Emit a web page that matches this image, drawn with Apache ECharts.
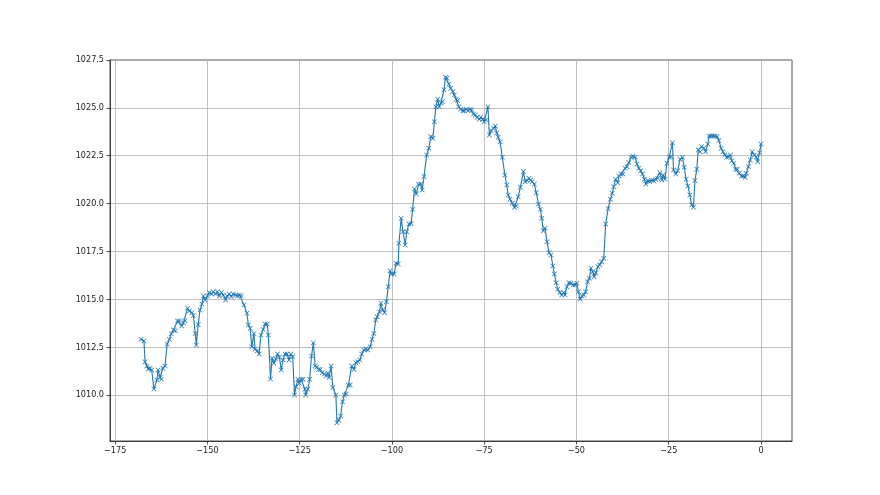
<!DOCTYPE html>
<html>
<head>
<meta charset="utf-8">
<script src="https://cdn.jsdelivr.net/npm/echarts@6/dist/echarts.min.js"></script>
<style>html,body{margin:0;padding:0;background:#fff}#c{width:880px;height:495px}</style>
</head>
<body>
<div id="c"></div>
<script>
// hours relative to now
var hours = [
-168,-167.2,-166.9,-166.4,-166.0,-165.5,-165.1,-164.5,-163.7,-163.4,-162.8,-162.5,-162.1,-161.5,-160.9,-160.3,-159.8,-159.2,-158.7,-158.1,
-157.6,-157.0,-156.5,-156.1,-155.4,-154.9,-154.2,-153.8,-153.3,-153.0,-152.5,-152.0,-151.5,-151.1,-150.6,-150.0,-149.5,-148.9,-148.4,-147.8,
-147.3,-146.8,-146.2,-145.7,-145.1,-144.6,-144.1,-143.5,-143.0,-142.4,-141.9,-141.3,-140.8,-140.1,
-139.3,-138.9,-138.4,-138.0,-137.4,-137.1,-136.5,-136.0,-135.5,-134.9,-134.4,-133.8,-133.5,-132.9,-132.5,-132.0,-131.5,-131.0,-130.5,-130.0,
-129.5,-129.0,-128.4,-127.9,-127.4,-126.9,-126.4,-126.0,-125.5,-125.1,-124.6,-124.1,-123.6,-123.4,-122.8,-122.3,-121.8,-121.3,-120.8,-120.4,
-119.9,-119.4,-118.9,-118.3,-117.8,-117.4,-117.0,-116.5,-116.0,-115.2,-114.9,-114.4,-113.9,-113.4,-112.9,-112.4,-111.8,-111.3,-110.9,-110.3,
-109.8,-109.3,-108.7,-108.2,-107.6,-107.1,
-106.5,-105.9,-105.4,-104.9,-104.4,-104.0,-103.4,-103.0,-102.5,-102.0,-101.5,-101.0,-100.5,-100.1,-99.4,-98.9,-98.3,-98.1,-97.5,-97.0,
-96.4,-96.0,-95.4,-94.8,-94.4,-93.9,-93.4,-92.8,-92.2,-91.8,-91.3,-90.6,-90.0,-89.5,-88.9,-88.5,-88.1,-87.6,-87.2,-86.7,
-86.3,-85.9,-85.5,-85.1,-84.6,-84.1,-83.5,-83.1,-82.6,-82.2,-81.9,-81.4,-80.8,-80.4,-79.9,-79.4,-78.8,-78.4,-77.9,-77.4,
-76.9,-76.3,-75.9,-75.4,-75.0,-74.5,-74.0,-73.6,-73.1,-72.5,-72.0,-71.6,-71.2,-70.7,-70.1,-69.4,-68.9,-68.5,-68.0,-67.4,
-66.8,-66.3,-65.8,-65.2,-64.4,-63.9,-63.4,-62.9,-62.4,-62.0,-61.4,-60.9,-60.3,-59.8,-59.4,-59.0,-58.5,-58.0,-57.4,-56.9,
-56.4,-56.0,-55.5,-55.1,-54.5,-54.0,-53.5,-53.1,-52.6,-52.0,-51.5,-50.9,-50.4,-49.9,-49.5,-49.0,-48.5,-48.0,-47.5,-47.0,
-46.5,-46.1,-45.6,-45.2,-44.7,-44.2,-43.7,-43.2,-42.6,-42.1,-41.4,-40.8,-40.3,-39.9,-39.4,-38.8,-38.5,-37.9,-37.4,-36.8,
-36.3,-35.8,-35.2,-34.7,-34.1,-33.6,-33.1,-32.6,-32.1,-31.6,-31.2,-30.7,-30.2,-29.6,-29.1,-28.5,-28.0,-27.4,-26.9,-26.5,
-26.0,-25.5,-24.9,-24.4,-24.0,-23.7,-23.1,-22.6,-21.9,-21.3,-20.8,-20.3,-19.8,-19.3,-18.8,-18.3,-17.9,-17.4,-17.0,-16.5,
-16.1,-15.5,-15.0,-14.4,-14.1,-13.5,-13.0,-12.5,-11.9,-11.4,-10.8,-10.3,-9.8,-9.3,-8.8,-8.3,-7.9,-7.4,-6.9,-6.4,
-5.9,-5.3,-4.8,-4.3,-4.0,-3.4,-2.9,-2.4,-1.8,-1.3,-0.9,-0.4,0
];
// pressure, hPa
var pressure = [
1012.91,1012.82,1011.74,1011.52,1011.36,1011.40,1011.31,1010.31,1010.78,1011.31,1010.92,1010.82,1011.40,1011.52,1012.66,1012.91,1013.20,1013.40,1013.36,1013.87,
1013.87,1013.61,1013.78,1013.88,1014.53,1014.39,1014.30,1014.16,1013.22,1012.61,1013.69,1014.44,1014.75,1015.17,1014.96,1015.17,1015.35,1015.28,1015.40,1015.28,
1015.40,1015.17,1015.35,1015.22,1014.96,1015.17,1015.28,1015.14,1015.28,1015.22,1015.17,1015.22,1015.17,1014.70,
1014.27,1013.66,1013.48,1012.52,1013.22,1012.39,1012.31,1012.14,1013.13,1013.43,1013.71,1013.71,1013.13,1010.84,1011.92,1011.66,1011.88,1012.14,1011.97,1011.31,
1011.83,1012.14,1012.14,1011.83,1012.14,1012.00,1010.00,1010.43,1010.82,1010.61,1010.82,1010.82,1010.30,1010.00,1010.30,1010.82,1012.04,1012.73,1011.52,1011.45,
1011.34,1011.34,1011.17,1011.10,1010.99,1011.15,1010.92,1011.52,1010.40,1010.00,1008.55,1008.69,1008.90,1009.65,1010.00,1010.05,1010.52,1010.52,1011.52,1011.34,
1011.69,1011.74,1011.83,1012.14,1012.35,1012.40,
1012.35,1012.52,1012.91,1013.22,1013.92,1014.09,1014.35,1014.79,1014.44,1014.30,1014.87,1015.66,1016.49,1016.32,1016.32,1016.88,1016.84,1017.93,1019.23,1018.53,
1017.84,1018.53,1018.93,1018.96,1019.70,1020.76,1020.50,1021.01,1021.02,1020.71,1021.41,1022.54,1022.89,1023.50,1023.41,1024.28,1025.06,1025.45,1025.06,1025.27,
1025.32,1025.94,1026.60,1026.55,1026.25,1026.02,1025.85,1025.67,1025.45,1025.38,1025.06,1024.93,1024.85,1024.85,1024.93,1024.85,1024.93,1024.89,1024.68,1024.63,
1024.51,1024.40,1024.51,1024.40,1024.28,1024.37,1025.06,1023.58,1023.81,1023.93,1024.05,1023.69,1023.46,1023.23,1022.42,1021.49,1020.97,1020.45,1020.23,1020.02,
1019.81,1019.87,1020.36,1020.85,1021.67,1021.14,1021.20,1021.32,1021.23,1021.14,1021.02,1020.57,1019.98,1019.70,1019.23,1018.58,1018.71,1018.01,1017.43,1017.31,
1016.74,1016.32,1015.87,1015.52,1015.35,1015.22,1015.35,1015.22,1015.66,1015.87,1015.84,1015.75,1015.75,1015.84,1015.40,1015.00,1015.17,1015.22,1015.40,1015.92,
1016.10,1016.62,1016.44,1016.18,1016.39,1016.70,1016.79,1016.96,1017.14,1018.93,1019.75,1020.23,1020.54,1020.88,1021.27,1021.09,1021.44,1021.55,1021.55,1021.84,
1021.93,1022.14,1022.42,1022.49,1022.42,1022.07,1021.84,1021.72,1021.55,1021.27,1021.02,1021.20,1021.14,1021.20,1021.20,1021.27,1021.32,1021.61,1021.23,1021.49,
1021.27,1022.11,1022.42,1022.45,1023.18,1021.76,1021.55,1021.72,1022.31,1022.42,1021.90,1021.27,1020.92,1020.45,1019.93,1019.81,1021.20,1021.79,1022.80,1022.71,
1022.97,1022.89,1022.71,1023.11,1023.53,1023.53,1023.53,1023.53,1023.50,1023.29,1022.89,1022.71,1022.54,1022.42,1022.45,1022.54,1022.24,1022.11,1021.79,1021.79,
1021.58,1021.44,1021.44,1021.37,1021.58,1021.93,1022.28,1022.71,1022.54,1022.42,1022.19,1022.66,1023.11
];
var xTicks = [-175, -150, -125, -100, -75, -50, -25, 0];
var yTicks = [1010.0, 1012.5, 1015.0, 1017.5, 1020.0, 1022.5, 1025.0, 1027.5];

var pts = [];
for (var i = 0; i < hours.length && i < pressure.length; i++) pts.push([hours[i], pressure[i]]);

var chart = echarts.init(document.getElementById('c'), null, {renderer: 'canvas'});
var font = {fontFamily: '"Liberation Sans Narrow", "DejaVu Sans Condensed", "DejaVu Sans"', fontSize: 9, color: '#222'};
chart.setOption({
  animation: false,
  backgroundColor: '#fff',
  grid: {left: 110, right: 88, top: 60, bottom: 54, show: true, borderColor: '#222', borderWidth: 0.8, backgroundColor: 'transparent'},
  xAxis: {
    type: 'value', min: -176.4, max: 8.4,
    axisLine: {show: true, onZero: false, lineStyle: {color: '#222', width: 0.8}},
    axisTick: {show: true, length: 3.5, customValues: xTicks, lineStyle: {color: '#222', width: 0.8}},
    axisLabel: Object.assign({customValues: xTicks, margin: 5, formatter: function (v) { return String(v).replace('-', '\u2212'); }}, font),
    splitLine: {show: true, lineStyle: {color: '#b0b0b0', width: 0.8}}
  },
  yAxis: {
    type: 'value', min: 1007.6, max: 1027.5,
    axisLine: {show: true, onZero: false, lineStyle: {color: '#222', width: 0.8}},
    axisTick: {show: true, length: 3.5, customValues: yTicks, lineStyle: {color: '#222', width: 0.8}},
    axisLabel: Object.assign({customValues: yTicks, margin: 6, formatter: function (v) { return v.toFixed(1); }}, font),
    splitLine: {show: true, lineStyle: {color: '#b0b0b0', width: 0.8}}
  },
  series: [{
    type: 'line',
    data: pts,
    symbol: 'path://M0,1L1,0L5,4L9,0L10,1L6,5L10,9L9,10L5,6L1,10L0,9L4,5Z',
    symbolSize: 5,
    showSymbol: true,
    itemStyle: {color: '#1f77b4'},
    lineStyle: {color: '#1f77b4', width: 1.1},
    clip: false
  }]
});
</script>
</body>
</html>
